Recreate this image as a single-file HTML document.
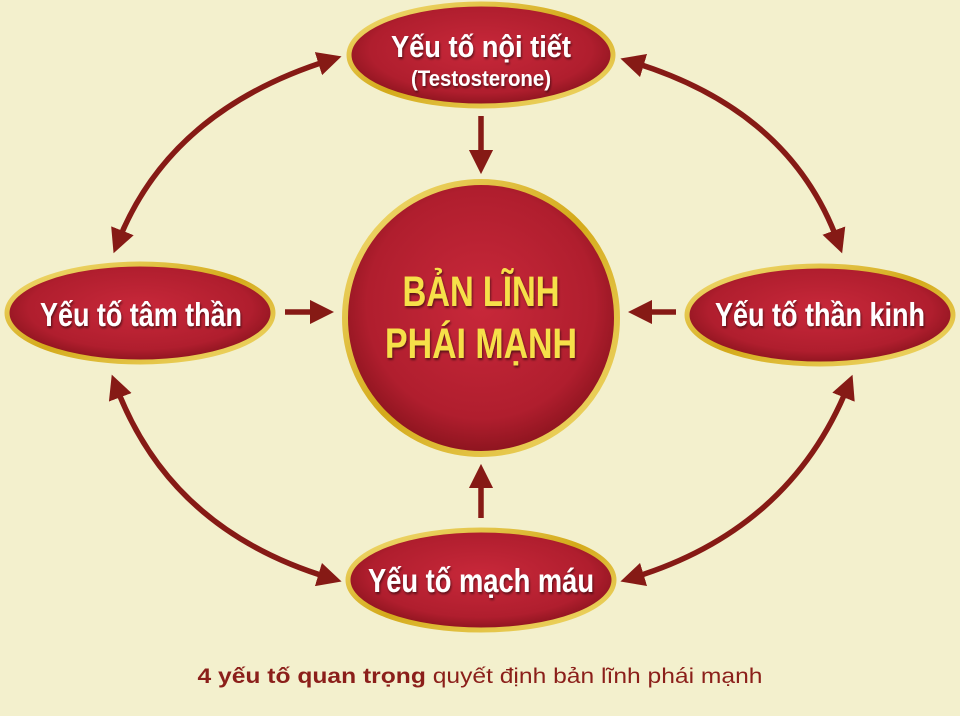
<!DOCTYPE html>
<html><head><meta charset="utf-8"><style>
html,body{margin:0;padding:0;background:#f3f0cd;}
svg{display:block}
.t{font-family:"Liberation Sans",sans-serif;font-weight:bold;fill:#fff;text-anchor:middle}
</style></head><body>
<svg width="960" height="716" viewBox="0 0 960 716">
<defs>
<radialGradient id="rg" cx="50%" cy="45%" r="60%">
<stop offset="0" stop-color="#c8283a"/><stop offset="0.7" stop-color="#b01e2e"/><stop offset="1" stop-color="#7e1018"/>
</radialGradient>
<linearGradient id="gd" x1="0" y1="0" x2="1" y2="1">
<stop offset="0" stop-color="#f4e07a"/><stop offset="0.5" stop-color="#d4aa1a"/><stop offset="1" stop-color="#f2dc70"/>
</linearGradient>
<marker id="ah" viewBox="0 0 10 10" refX="5" refY="5" markerWidth="4.4" markerHeight="4.4" orient="auto-start-reverse">
<path d="M0,0 L10,5 L0,10 z" fill="#861a15"/>
</marker>
<filter id="sh"><feDropShadow dx="1" dy="2" stdDeviation="1" flood-color="#000" flood-opacity="0.5"/></filter>
</defs>
<g stroke="#861a15" stroke-width="5.5" fill="none">
<path d="M330,60 Q170,110 118,242" marker-start="url(#ah)" marker-end="url(#ah)"/>
<path d="M632,62 Q790,110 838,242" marker-start="url(#ah)" marker-end="url(#ah)"/>
<path d="M116,386 Q170,530 330,578" marker-start="url(#ah)" marker-end="url(#ah)"/>
<path d="M848,386 Q790,530 632,578" marker-start="url(#ah)" marker-end="url(#ah)"/>
<path d="M481,116 L481,162" marker-end="url(#ah)"/>
<path d="M285,312 L322,312" marker-end="url(#ah)"/>
<path d="M676,312 L640,312" marker-end="url(#ah)"/>
<path d="M481,518 L481,476" marker-end="url(#ah)"/>
</g>
<g stroke="url(#gd)" stroke-width="5" fill="url(#rg)">
<ellipse cx="481" cy="55" rx="132" ry="51"/>
<ellipse cx="140" cy="313" rx="133" ry="49"/>
<ellipse cx="820" cy="315" rx="133" ry="49"/>
<ellipse cx="481" cy="580" rx="133" ry="50"/>
<circle cx="481" cy="318" r="136" stroke-width="6"/>
</g>
<g class="t" filter="url(#sh)">
<text x="481" y="57" font-size="31" textLength="180" lengthAdjust="spacingAndGlyphs">Yếu tố nội tiết</text>
<text x="481" y="86" font-size="22" textLength="140" lengthAdjust="spacingAndGlyphs">(Testosterone)</text>
<text x="141" y="326" font-size="33" textLength="202" lengthAdjust="spacingAndGlyphs">Yếu tố tâm thần</text>
<text x="820" y="326" font-size="33" textLength="210" lengthAdjust="spacingAndGlyphs">Yếu tố thần kinh</text>
<text x="481" y="592" font-size="33" textLength="226" lengthAdjust="spacingAndGlyphs">Yếu tố mạch máu</text>
<text x="481" y="306" font-size="43" style="fill:#f6e04a" textLength="157" lengthAdjust="spacingAndGlyphs">BẢN LĨNH</text>
<text x="481" y="358" font-size="43" style="fill:#f6e04a" textLength="192" lengthAdjust="spacingAndGlyphs">PHÁI MẠNH</text>
</g>
<text x="480" y="683" font-family="Liberation Sans, sans-serif" font-size="21" fill="#8b1f1a" text-anchor="middle" textLength="565" lengthAdjust="spacingAndGlyphs"><tspan font-weight="bold">4 yếu tố quan trọng</tspan> quyết định bản lĩnh phái mạnh</text>
</svg>
</body></html>
